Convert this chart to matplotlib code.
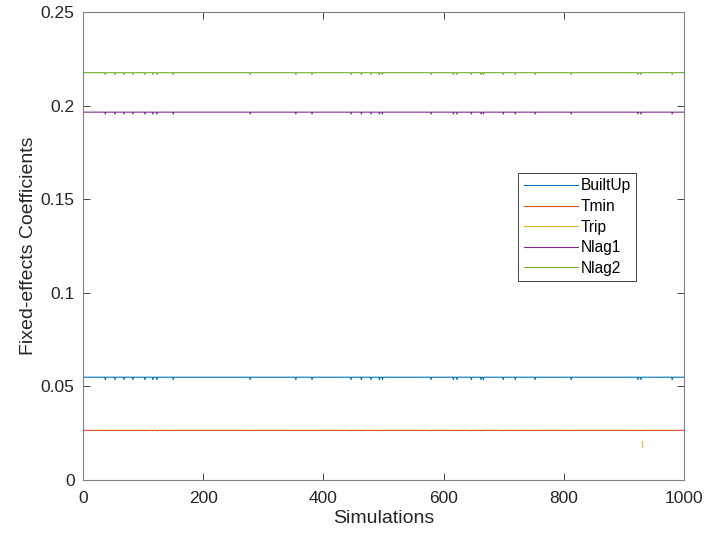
import matplotlib.pyplot as plt
import numpy as np

plt.rcParams.update({
    "font.family": ["Liberation Sans", "DejaVu Sans"],
    "font.size": 12.5,
})

# simulations 1..1000
n_sims = 1000
sims = np.arange(1, n_sims + 1)

# typical coefficient per variable
names = ["BuiltUp", "Tmin", "Trip", "Nlag1", "Nlag2"]
base = [0.0549, 0.0265, np.nan, 0.1965, 0.2176]
# simulations where the coefficients dip slightly
dip_sims = [37, 53, 68, 83, 103, 116, 123, 150, 278, 354, 381, 446, 463, 479,
            493, 498, 579, 616, 622, 646, 662, 666, 699, 719, 752, 812, 923,
            928, 980]
dip_vals = [0.0536, 0.0263, np.nan, 0.1955, 0.2166]
# Trip is only visible near simulation 930
trip_sims = [930, 931]
trip_vals = [0.0205, 0.0173]

colors = ["#0072BD", "#D95319", "#EDB120", "#7E2F8E", "#77AC30"]

fig = plt.figure(figsize=(7.2, 5.41), dpi=100)
ax = fig.add_axes([0.1153, 0.1128, 0.835, 0.865])

for i, name in enumerate(names):
    y = np.full(n_sims, base[i])
    y[np.array(dip_sims) - 1] = dip_vals[i]
    if name == "Trip":
        y[np.array(trip_sims) - 1] = trip_vals
    ax.plot(sims, y, color=colors[i], lw=0.8, label=name)

ax.set_xlim(0, 1000)
ax.set_ylim(0, 0.25)
ax.set_xticks([0, 200, 400, 600, 800, 1000])
ax.set_yticks([0, 0.05, 0.1, 0.15, 0.2, 0.25])
ax.set_yticklabels(["0", "0.05", "0.1", "0.15", "0.2", "0.25"])
ax.tick_params(direction="in", top=True, right=True, length=5, width=0.6,
               colors="#262626", labelsize=12.5)
ax.tick_params(axis="x", pad=8)
ax.tick_params(axis="y", pad=6)
for sp in ax.spines.values():
    sp.set_color("#808080")
    sp.set_linewidth(0.8)

ax.set_xlabel("Simulations", fontsize=14, color="#262626", labelpad=3)
ax.set_ylabel("Fixed-effects Coefficients", fontsize=14, color="#262626", labelpad=3)

leg = ax.legend(loc="upper left", bbox_to_anchor=(0.724, 0.656), fancybox=False,
                edgecolor="#262626", framealpha=1, fontsize=11.2,
                handlelength=3.5, handletextpad=0.15, labelspacing=0.36,
                borderpad=0.35, borderaxespad=0)
leg.get_frame().set_linewidth(0.6)

fig.savefig("out.png", dpi=100)
